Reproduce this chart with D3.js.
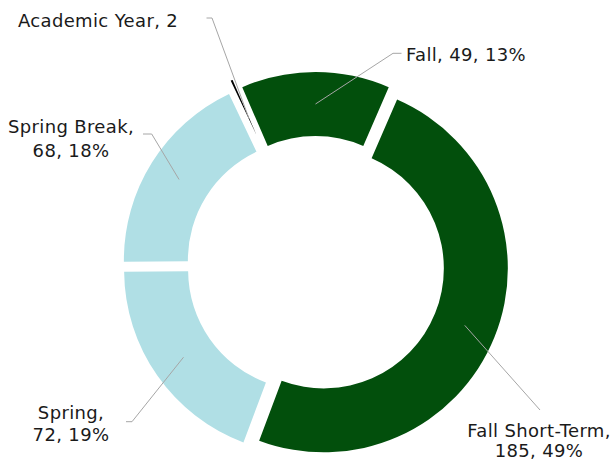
<!DOCTYPE html>
<html>
<head>
<meta charset="utf-8">
<script src="https://cdn.jsdelivr.net/npm/d3@7"></script>
<style>
  body { margin: 0; background: #fff; }
  svg text { font-family: "DejaVu Sans", Verdana, sans-serif; font-size: 18px; letter-spacing: 0.35px; fill: #1a1a1a; }
</style>
</head>
<body>
<div id="chart"></div>
<script>
// Data
const categories = ["Fall", "Fall Short-Term", "Spring", "Spring Break", "Academic Year"];
const values = [49, 185, 72, 68, 2];
const percentLabels = ["13%", "49%", "19%", "18%", ""];

// Colors per slice
const colors = ["#024f0c", "#024f0c", "#b0dfe5", "#b0dfe5", "#000000"];

// Dimensions
const width = 613, height = 459;
const cx = 315.5, cy = 265;
const outerR = 184, innerR = 120;
const explode = [9, 9, 9, 9, 21];

// Label layout (text lines, centre x, baselines, leader elbow and end)
const labelLayout = [
  {lines: ["Fall, 49, 13%"], x: 466, y: [60.5], elbow: [393, 53.3], end: [401.5, 53.3]},
  {lines: ["Fall Short-Term,", "185, 49%"], x: 539, y: [436.5, 456.5], elbow: [540, 410], end: [540, 410]},
  {lines: ["Spring,", "72, 19%"], x: 71, y: [419.3, 441], elbow: [132, 421.7], end: [126, 421.7]},
  {lines: ["Spring Break,", "68, 18%"], x: 71, y: [132.5, 156.5], elbow: [151.7, 134], end: [143, 134]},
  {lines: ["Academic Year, 2"], x: 98, y: [26.7], elbow: [212, 18], end: [206.5, 18]}
];

const svg = d3.select("#chart")
  .append("svg")
  .attr("width", width)
  .attr("height", height);

const total = d3.sum(values);

// First slice centred on the top
const pie = d3.pie()
  .sort(null)
  .startAngle(-Math.PI * values[0] / total)
  .endAngle(2 * Math.PI - Math.PI * values[0] / total);

const arcs = pie(values);

const arc = d3.arc()
  .innerRadius(innerR)
  .outerRadius(outerR);

const g = svg.append("g")
  .attr("transform", `translate(${cx},${cy})`);

// offset of each slice along its middle angle
function offset(d, i) {
  const a = (d.startAngle + d.endAngle) / 2;
  return [explode[i] * Math.sin(a), -explode[i] * Math.cos(a)];
}

g.selectAll("path.slice")
  .data(arcs)
  .join("path")
  .attr("class", "slice")
  .attr("d", arc)
  .attr("fill", (d, i) => colors[i])
  .attr("stroke", (d, i) => i === 4 ? "#fff" : "none")
  .attr("stroke-width", 4)
  .attr("transform", (d, i) => {
    const o = offset(d, i);
    return `translate(${o[0]},${o[1]})`;
  });

// Leader lines
svg.selectAll("path.leader")
  .data(arcs)
  .join("path")
  .attr("class", "leader")
  .attr("fill", "none")
  .attr("stroke", "#a6a6a6")
  .attr("stroke-width", 1)
  .attr("d", (d, i) => {
    const o = offset(d, i < 4 ? i : 0);
    const c = arc.centroid(d);
    const p0 = [cx + c[0] + o[0], cy + c[1] + o[1]];
    const L = labelLayout[i];
    return d3.line()([p0, L.elbow, L.end]);
  });

// Labels
const labels = svg.selectAll("text.label")
  .data(labelLayout)
  .join("text")
  .attr("class", "label")
  .attr("text-anchor", "middle");

labels.each(function(L) {
  const t = d3.select(this);
  L.lines.forEach((s, k) => {
    t.append("tspan")
      .attr("x", L.x)
      .attr("y", L.y[k])
      .text(s);
  });
});
</script>
</body>
</html>
